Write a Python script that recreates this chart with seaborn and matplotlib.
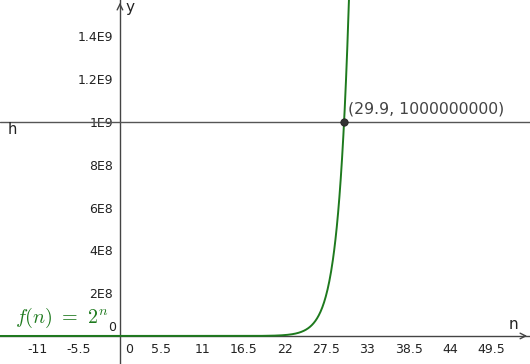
import numpy as np
import pandas as pd
import matplotlib
matplotlib.use("Agg")
import matplotlib.pyplot as plt
import seaborn as sns

# data
func_label = r"$f(n)\ =\ 2^n$"
n_min, n_max = -16.0, 30.8
base = 2
point_x = [29.9]
point_y = [1e9]
point_label = "(29.9, 1000000000)"
h_value = 1e9
x_ticks = [-11, -5.5, 5.5, 11, 16.5, 22, 27.5, 33, 38.5, 44, 49.5]
x_tick_labels = ["-11", "-5.5", "5.5", "11", "16.5", "22", "27.5", "33", "38.5", "44", "49.5"]
y_ticks = [2e8, 4e8, 6e8, 8e8, 1e9, 1.2e9, 1.4e9]
y_tick_labels = ["2E8", "4E8", "6E8", "8E8", "1E9", "1.2E9", "1.4E9"]

sns.set_style("white")
plt.rcParams['font.family'] = ['DejaVu Sans']
plt.rcParams['mathtext.fontset'] = 'cm'

fig = plt.figure(figsize=(5.3, 3.64), dpi=100)
ax = fig.add_axes([0, 0, 1, 1])

xmin, xmax = -16.0, 54.7
ymin, ymax = -0.131e9, 1.57e9
ax.set_xlim(xmin, xmax)
ax.set_ylim(ymin, ymax)

green = "#1e7a1e"
axis_col = "#444444"

n = np.linspace(n_min, n_max, 800)
df = pd.DataFrame({"n": n, "y": np.power(float(base), n)})
sns.lineplot(data=df, x="n", y="y", ax=ax, color=green, linewidth=1.4, zorder=4)

# horizontal line h
ax.axhline(h_value, color="#555555", linewidth=1.0, zorder=3)

# point
sns.scatterplot(x=point_x, y=point_y, ax=ax, color="#333333", s=28, edgecolor="#222222",
                linewidth=0.6, zorder=6)
ax.annotate(point_label, (point_x[0], point_y[0]), xytext=(3, 4), textcoords="offset points",
            fontsize=11.3, color="#444444", ha="left", va="bottom")
ax.text(xmin + 1.0, h_value, "h", fontsize=10.5, color="#222222", ha="left", va="top",
        transform=ax.transData)

ax.set_xlabel("")
ax.set_ylabel("")

# spines as axes through origin
for s in ["top", "right"]:
    ax.spines[s].set_visible(False)
ax.spines["left"].set_position(("data", 0))
ax.spines["bottom"].set_position(("data", 0))
ax.spines["left"].set_color(axis_col)
ax.spines["bottom"].set_color(axis_col)
ax.spines["left"].set_linewidth(1.0)
ax.spines["bottom"].set_linewidth(1.0)

ax.set_xticks(x_ticks)
ax.set_xticklabels(x_tick_labels)
ax.set_yticks(y_ticks)
ax.set_yticklabels(y_tick_labels)
ax.tick_params(axis="both", direction="out", length=3, width=0.8, color=axis_col,
               labelsize=9, labelcolor="#222222", pad=2)

# arrows at axis ends
ax.annotate("", xy=(xmax, 0), xytext=(xmax - 1.2, 0),
            arrowprops=dict(arrowstyle="->", color=axis_col, lw=1.0, mutation_scale=10))
ax.annotate("", xy=(0, ymax), xytext=(0, ymax - 0.04e9),
            arrowprops=dict(arrowstyle="->", color=axis_col, lw=1.0, mutation_scale=10))

# axis names
ax.text(52.5, 0.02e9, "n", fontsize=11, color="#222222", ha="center", va="bottom")
ax.text(1.3, 1.535e9, "y", fontsize=11, color="#222222", ha="center", va="center")

# zero labels
ax.text(-0.5, 0.008e9, "0", fontsize=9, color="#222222", ha="right", va="bottom")
ax.text(0.7, -0.035e9, "0", fontsize=9, color="#222222", ha="left", va="top")

# function label
ax.text(-14.0, 0.028e9, func_label, fontsize=14.5, color=green, ha="left", va="bottom")

fig.savefig("out.png", dpi=100)
